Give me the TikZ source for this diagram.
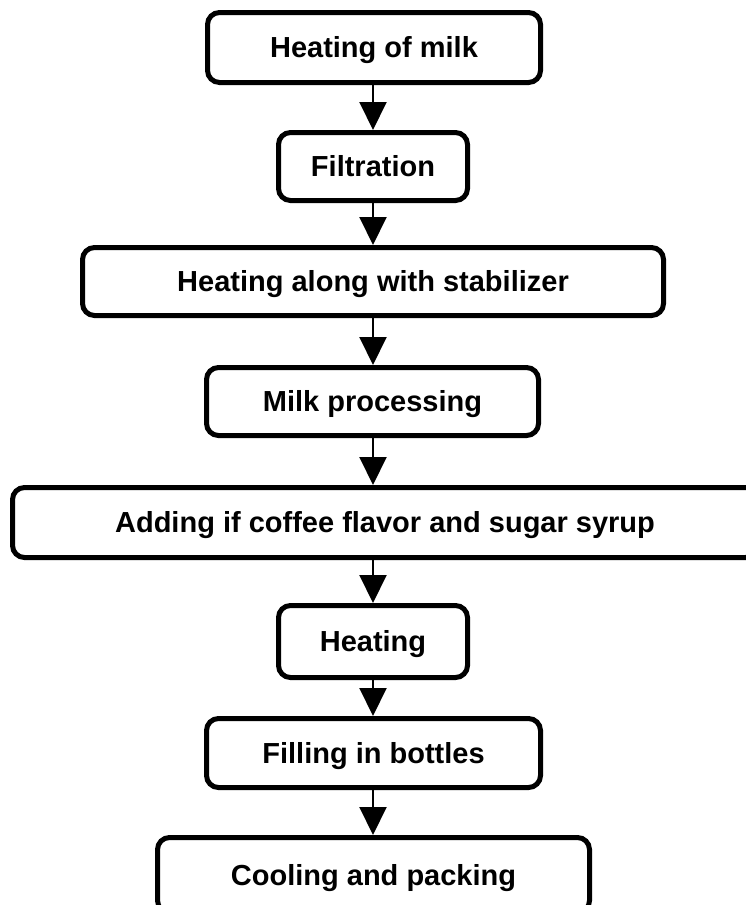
\documentclass[tikz,border=0pt]{standalone}
\usepackage{fontspec}
\setmainfont{Liberation Sans}
\usetikzlibrary{arrows.meta}
\tikzset{
  stepbox/.style={draw=black, line width=5pt, rounded corners=12pt, fill=white,
    inner sep=0pt, align=center, text height=20.8pt, text depth=0pt,
    font=\bfseries\fontsize{29}{34}\selectfont},
  flowarrow/.style={draw=black, line width=2pt, -{Triangle[width=27pt,length=28pt]}}
}
\begin{document}
\begin{tikzpicture}[x=1pt,y=-1pt]
\useasboundingbox (0,0) rectangle (746,905);
\coordinate (ax) at (373,0);
\node[stepbox, minimum width=333pt, minimum height=70pt] (b1) at (374,47.5) {Heating of milk};
\node[stepbox, minimum width=189pt, minimum height=68pt] (b2) at (373,166.5) {Filtration};
\node[stepbox, minimum width=581pt, minimum height=68pt] (b3) at (373,281.5) {Heating along with stabilizer};
\node[stepbox, minimum width=332pt, minimum height=68pt] (b4) at (372.5,401.5) {Milk processing};
\node[stepbox, minimum width=745pt, minimum height=70pt] (b5) at (385,522.5) {Adding if coffee flavor and sugar syrup};
\node[stepbox, minimum width=189pt, minimum height=72pt] (b6) at (373,641.5) {Heating};
\node[stepbox, minimum width=334pt, minimum height=69pt] (b7) at (373.5,753) {Filling in bottles};
\node[stepbox, minimum width=432pt, minimum height=75pt] (b8) at (373.5,875) {Cooling and packing};
\draw[flowarrow] (b1.south -| ax) -- (b2.north -| ax);
\draw[flowarrow] (b2.south -| ax) -- (b3.north -| ax);
\draw[flowarrow] (b3.south -| ax) -- (b4.north -| ax);
\draw[flowarrow] (b4.south -| ax) -- (b5.north -| ax);
\draw[flowarrow] (b5.south -| ax) -- (b6.north -| ax);
\draw[flowarrow] (b6.south -| ax) -- (b7.north -| ax);
\draw[flowarrow] (b7.south -| ax) -- (b8.north -| ax);
\end{tikzpicture}
\end{document}
